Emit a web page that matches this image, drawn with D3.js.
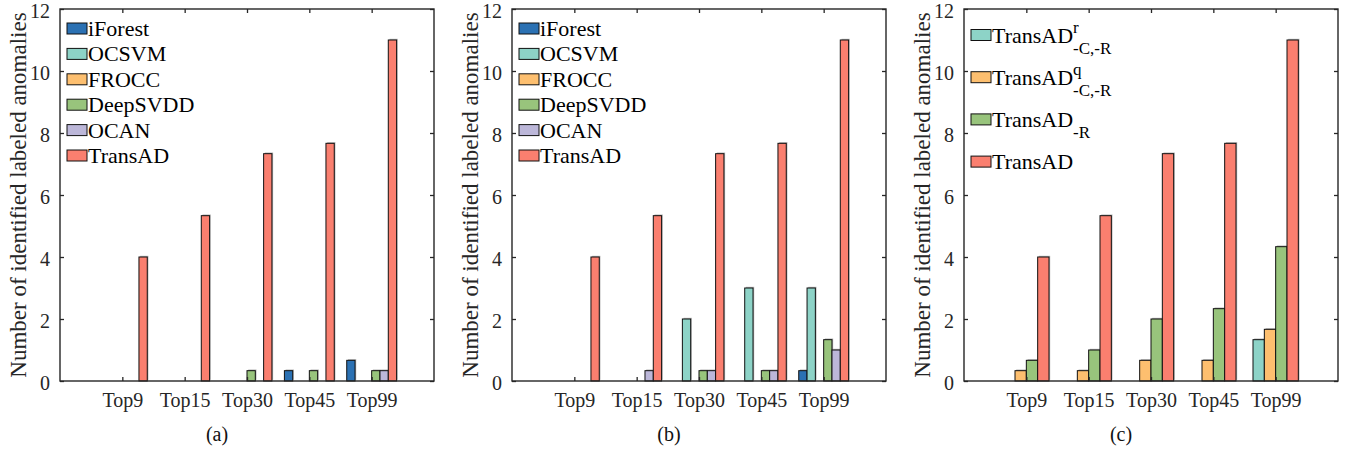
<!DOCTYPE html>
<html>
<head>
<meta charset="utf-8">
<script src="https://cdn.jsdelivr.net/npm/d3@7"></script>
<style>
  body { margin: 0; background: #fff; }
  text { font-family: "Liberation Serif", "Times New Roman", serif; }
</style>
</head>
<body>
<svg id="chart" width="1350" height="454"></svg>
<script>
// categories on the x axis
var categories = ["Top9", "Top15", "Top30", "Top45", "Top99"];

// panel (a)
var iForestA  = [0, 0, 0, 0.333, 0.667];
var ocsvmA    = [0, 0, 0, 0, 0];
var froccA    = [0, 0, 0, 0, 0];
var deepSvddA = [0, 0, 0.333, 0.333, 0.333];
var ocanA     = [0, 0, 0, 0, 0.333];
var transA    = [4, 5.333, 7.333, 7.667, 11];

// panel (b)
var iForestB  = [0, 0, 0, 0, 0.333];
var ocsvmB    = [0, 0, 2, 3, 3];
var froccB    = [0, 0, 0, 0, 0];
var deepSvddB = [0, 0, 0.333, 0.333, 1.333];
var ocanB     = [0, 0.333, 0.333, 0.333, 1];
var transB    = [4, 5.333, 7.333, 7.667, 11];

// panel (c)
var transRC   = [0, 0, 0, 0, 1.333];
var transQC   = [0.333, 0.333, 0.667, 0.667, 1.667];
var transNoR  = [0.667, 1, 2, 2.333, 4.333];
var transC    = [4, 5.333, 7.333, 7.667, 11];

var baselineNames = ["iForest", "OCSVM", "FROCC", "DeepSVDD", "OCAN", "TransAD"];
var baselineColors = ["#2b71b3", "#8dd3c7", "#fdbf6f", "#98c47c", "#bcb7d9", "#fa7f6f"];
var ablationNames = ["TransAD", "TransAD", "TransAD", "TransAD"];
var ablationSup = ["r", "q", "", ""];
var ablationSub = ["-C,-R", "-C,-R", "-R", ""];
var ablationColors = ["#8dd3c7", "#fdbf6f", "#98c47c", "#fa7f6f"];

var yTicks = [0, 2, 4, 6, 8, 10, 12];
var captions = ["(a)", "(b)", "(c)"];

var svg = d3.select("#chart");

// layout of the three axes
var panelLeft = [60, 512, 964],
    panelW = 374,
    plotTop = 9,
    plotBottom = 381;

var panels = [
  { values: [iForestA, ocsvmA, froccA, deepSvddA, ocanA, transA], names: baselineNames, colors: baselineColors, legendStep: 25.4, legendTop: 28.5 },
  { values: [iForestB, ocsvmB, froccB, deepSvddB, ocanB, transB], names: baselineNames, colors: baselineColors, legendStep: 25.4, legendTop: 28.5 },
  { values: [transRC, transQC, transNoR, transC], names: ablationNames, sup: ablationSup, sub: ablationSub, colors: ablationColors, legendStep: 42.2, legendTop: 35 }
];

panels.forEach(function(p, k) {
    var x0 = panelLeft[k], x1 = x0 + panelW;
    var g = svg.append("g");

    var x = d3.scalePoint().domain(categories).range([x0, x1]).padding(1);
    var y = d3.scaleLinear().domain([0, 12]).range([plotBottom, plotTop]);

    // matlab grouped bar widths
    var n = p.values.length;
    var groupW = Math.min(0.8, n / (n + 1.5)) * x.step();
    var inner = d3.scaleBand().domain(d3.range(n)).range([-groupW / 2, groupW / 2]);

    var bars = [];
    p.values.forEach(function(vals, s) {
        vals.forEach(function(v, c) {
            if (v > 0) bars.push({ s: s, c: categories[c], v: v });
        });
    });

    // soft shadow then bars
    g.selectAll(".shadow").data(bars).enter().append("rect")
        .attr("x", function(d) { return x(d.c) + inner(d.s) + 1.2; })
        .attr("y", function(d) { return y(d.v) - 1.2; })
        .attr("width", inner.bandwidth())
        .attr("height", function(d) { return plotBottom - y(d.v); })
        .attr("fill", "#9a9a9a")
        .attr("opacity", 0.7);

    g.selectAll(".bar").data(bars).enter().append("rect")
        .attr("x", function(d) { return x(d.c) + inner(d.s); })
        .attr("y", function(d) { return y(d.v); })
        .attr("width", inner.bandwidth())
        .attr("height", function(d) { return plotBottom - y(d.v); })
        .attr("fill", function(d) { return p.colors[d.s]; })
        .attr("stroke", "#111")
        .attr("stroke-width", 1);

    // box
    g.append("rect")
        .attr("x", x0).attr("y", plotTop)
        .attr("width", panelW).attr("height", plotBottom - plotTop)
        .attr("fill", "none").attr("stroke", "#262626").attr("stroke-width", 1.4);

    // y axis, ticks inward on both sides
    var yAxis = g.append("g").attr("transform", "translate(" + x0 + ",0)")
        .call(d3.axisLeft(y).tickValues(yTicks).tickSizeInner(-4).tickSizeOuter(0).tickPadding(10));
    yAxis.select(".domain").remove();
    yAxis.selectAll("line").attr("stroke", "#262626").attr("stroke-width", 1.3);
    yAxis.selectAll("text").style("font-size", "20px").attr("fill", "#262626")
        .attr("font-family", "Liberation Serif").attr("dy", "0.4em");

    var yRight = g.append("g").attr("transform", "translate(" + x1 + ",0)")
        .call(d3.axisRight(y).tickValues(yTicks).tickSizeInner(-4).tickSizeOuter(0).tickFormat(""));
    yRight.select(".domain").remove();
    yRight.selectAll("line").attr("stroke", "#262626").attr("stroke-width", 1.3);

    // x axis, ticks inward on bottom and top
    var xAxis = g.append("g").attr("transform", "translate(0," + plotBottom + ")")
        .call(d3.axisBottom(x).tickSizeInner(-4).tickSizeOuter(0).tickPadding(12));
    xAxis.select(".domain").remove();
    xAxis.selectAll("line").attr("stroke", "#262626").attr("stroke-width", 1.3);
    xAxis.selectAll("text").style("font-size", "20px").attr("fill", "#262626")
        .attr("font-family", "Liberation Serif");

    var xTop = g.append("g").attr("transform", "translate(0," + plotTop + ")")
        .call(d3.axisTop(x).tickSizeInner(-4).tickSizeOuter(0).tickFormat(""));
    xTop.select(".domain").remove();
    xTop.selectAll("line").attr("stroke", "#262626").attr("stroke-width", 1.3);

    // y label
    g.append("text")
        .attr("transform", "translate(" + (x0 - 34) + "," + ((plotTop + plotBottom) / 2) + ") rotate(-90)")
        .attr("text-anchor", "middle")
        .style("font-size", "23px")
        .attr("fill", "#262626")
        .text("Number of identified labeled anomalies");

    // caption
    g.append("text")
        .attr("x", x0 + 157).attr("y", 441)
        .attr("text-anchor", "middle")
        .style("font-size", "20px")
        .attr("fill", "#111")
        .text(captions[k]);

    // legend
    var leg = g.selectAll(".legend").data(p.names).enter().append("g")
        .attr("transform", function(d, i) { return "translate(" + (x0 + 7) + "," + (p.legendTop + i * p.legendStep) + ")"; });

    leg.append("rect")
        .attr("x", 0).attr("y", -5.5)
        .attr("width", 20).attr("height", 11)
        .attr("fill", function(d, i) { return p.colors[i]; })
        .attr("stroke", "#111").attr("stroke-width", 1);

    leg.each(function(d, i) {
        var el = d3.select(this);
        var t = el.append("text")
            .attr("x", 21).attr("y", 7.5)
            .style("font-size", "22px")
            .attr("fill", "#000")
            .text(d);
        var w = t.node().getComputedTextLength();
        if (p.sup && p.sup[i]) {
            el.append("text").attr("x", 21 + w).attr("y", -2)
                .style("font-size", "17px").attr("fill", "#000").text(p.sup[i]);
        }
        if (p.sub && p.sub[i]) {
            el.append("text").attr("x", 21 + w).attr("y", 19)
                .style("font-size", "17px").attr("fill", "#000").text(p.sub[i]);
        }
    });
});
</script>
</body>
</html>
